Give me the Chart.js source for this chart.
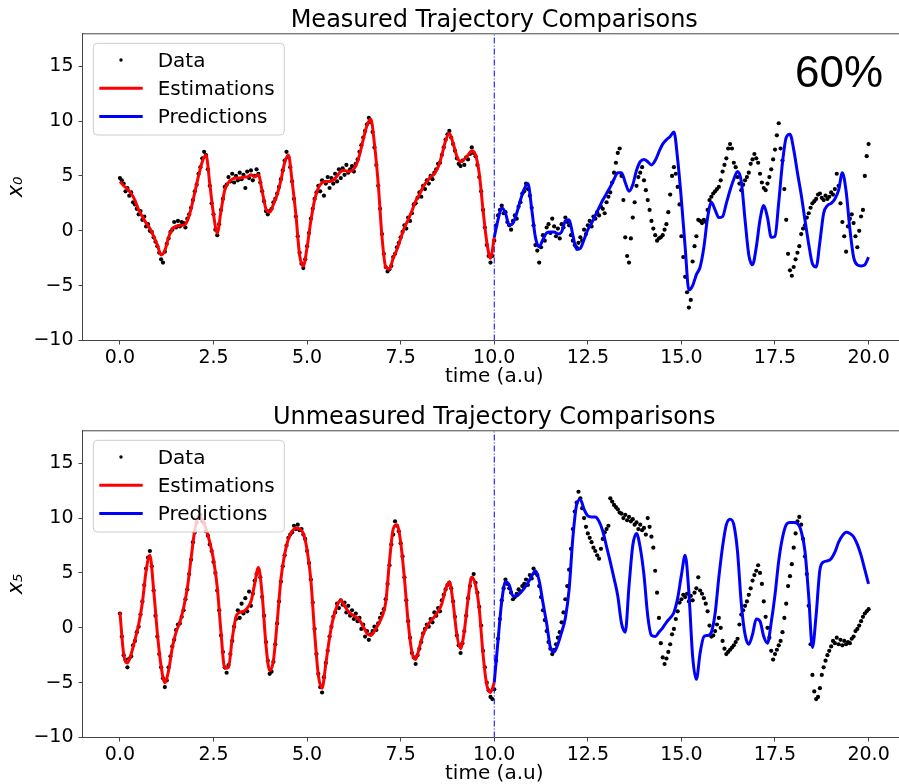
<!DOCTYPE html>
<html>
<head>
<meta charset="utf-8">
<script src="https://cdn.jsdelivr.net/npm/chart.js@4.4.1/dist/chart.umd.min.js"></script>
<style>
  html, body { margin: 0; padding: 0; background: #fff; overflow: hidden; width: 899px; height: 784px; }
  canvas { position: absolute; left: 0; }
  #c1 { top: 0; }
  #c2 { top: 397px; }
</style>
</head>
<body>
<canvas id="c1" width="910" height="392"></canvas>
<canvas id="c2" width="910" height="392"></canvas>
<script>
// ---------- tick labels ----------
const xTicks = [0, 2.5, 5, 7.5, 10, 12.5, 15, 17.5, 20];
const yTicks = [-10, -5, 0, 5, 10, 15];
const splitTime = 10;

// ---------- time grids ----------
const tEst = Array.from({length: 101}, (_, i) => +(i * 0.1).toFixed(1));        // 0..10
const tPred = Array.from({length: 101}, (_, i) => +(10 + i * 0.1).toFixed(1));  // 10..20
const tData = Array.from({length: 401}, (_, i) => +(i * 0.05).toFixed(2));      // 0..20

// ---------- measured state x0 ----------
const x0Est = [
  4.5,4.1,3.8,3.4,2.8,1.9,1.3,0.7,0.2,-0.5,
  -1.3,-2.2,-1.8,-0.6,0.2,0.4,0.5,0.5,0.9,2.0,
  3.5,5.0,6.3,6.9,4.3,1.5,-0.2,1.8,3.7,4.4,
  4.7,4.8,4.8,4.9,4.9,5.1,4.9,5.1,3.6,2.0,
  1.7,2.4,3.3,4.6,6.2,6.9,4.5,1.5,-2.2,-3.2,
  -1.5,0.9,2.8,3.9,4.4,4.5,4.5,4.6,5.0,5.4,
  5.5,5.4,5.5,5.9,6.9,8.3,9.6,10.2,7.9,4.3,
  -0.5,-3.3,-3.5,-2.5,-1.7,-0.7,0.3,1.0,1.8,2.7,
  3.3,4.0,4.5,4.9,5.2,5.8,6.9,8.2,8.9,8.0,
  6.8,6.3,6.5,6.9,7.3,6.9,5.2,1.9,-1.0,-2.5,
  -0.6
];
const x0Pred = [
  -0.6,1.0,2.1,1.6,0.5,0.7,1.6,2.8,3.8,4.3,
  2.0,-0.6,-1.45,-0.8,-0.2,-0.1,-0.1,-0.3,-0.1,0.9,
  1.0,-0.4,-1.7,-1.6,-0.8,0.1,0.7,1.4,2.1,2.8,
  3.4,4.0,4.7,5.3,5.3,4.4,3.6,4.2,5.5,6.3,
  6.5,6.3,6.0,6.4,7.2,7.9,8.3,8.6,9.0,6.5,
  2.8,-1.5,-5.4,-5.0,-4.0,-3.3,-1.5,1.2,2.6,1.9,
  1.2,1.3,2.5,3.7,4.7,5.4,4.5,1.0,-2.2,-3.1,
  -1.5,1.0,2.3,1.2,-0.6,-0.5,2.6,6.2,8.5,8.8,
  7.4,5.3,3.3,1.0,-1.2,-3.0,-3.3,-1.0,1.6,2.3,
  2.5,2.9,3.7,5.3,3.6,0.2,-2.4,-3.1,-3.2,-3.1,
  -2.4
];
const x0Data = [
  4.8,4.6,4.3,3.6,3.9,3.2,3.5,2.6,2.4,2.0,1.5,1.8,1.0,1.3,0.4,0.6,0.0,-0.1,-0.6,-1.0,
  -1.4,-2.0,-2.6,-2.9,-1.9,-1.2,-0.7,-0.1,0.1,0.8,0.3,0.9,0.4,0.8,0.7,0.3,1.1,1.5,2.1,2.8,
  3.6,4.2,5.2,5.8,6.6,7.2,6.9,5.6,4.1,2.5,1.5,0.1,-0.4,0.6,1.9,2.9,4.0,4.2,4.9,4.5,
  5.2,4.4,5.0,4.6,5.3,4.7,5.1,3.9,5.4,4.8,5.5,4.6,5.0,5.6,5.2,4.4,3.6,2.7,1.8,1.5,
  1.8,2.0,2.6,2.9,3.4,4.0,4.7,5.5,6.4,7.2,6.7,5.8,4.5,2.9,1.3,-0.5,-2.0,-3.0,-3.4,-2.6,
  -1.4,-0.2,1.1,2.0,2.9,3.5,4.1,3.6,4.6,3.2,4.3,4.9,3.9,4.8,4.3,5.2,4.5,5.6,4.8,5.7,
  5.1,6.0,5.3,5.6,5.9,5.4,6.1,6.5,7.2,7.8,8.5,9.1,9.7,10.3,9.9,9.0,7.6,6.0,4.1,2.0,
  -0.3,-2.1,-3.3,-3.7,-3.5,-3.2,-2.4,-2.1,-1.5,-1.1,-0.6,-0.1,0.5,0.2,1.2,0.9,1.6,2.4,2.5,3.0,
  3.5,3.1,4.1,3.8,4.6,4.3,5.0,4.7,5.3,5.6,6.1,6.2,6.9,7.6,8.3,8.8,9.1,8.5,7.9,7.3,
  6.6,6.1,5.9,6.4,6.0,6.7,6.5,7.0,7.6,7.1,6.8,6.0,4.9,3.6,1.9,0.3,-1.3,-2.3,-2.9,-2.3,
  -0.9,0.5,1.4,1.9,2.3,1.6,1.7,0.8,0.5,0.1,0.9,1.4,1.1,2.2,2.6,3.4,3.6,4.3,3.8,3.2,
  2.1,0.5,-1.3,-1.8,-2.9,-1.5,-0.4,-0.9,0.3,0.6,-0.2,1.1,0.4,-0.5,0.2,-0.7,0.6,0.3,1.2,0.8,
  0.5,-0.4,-0.9,-1.3,-1.5,-1.1,-0.6,-0.9,0.1,-0.3,0.5,0.9,0.4,1.3,1.1,1.7,1.4,2.2,2.0,1.6,
  2.6,3.1,3.5,4.4,5.3,6.2,7.1,7.5,5.0,2.8,-0.6,-2.3,-2.9,-0.7,1.2,2.6,4.1,4.9,5.3,5.8,
  4.6,3.7,2.8,1.9,0.9,0.2,-0.4,-0.9,-0.7,-0.6,-0.4,0.1,0.6,1.7,3.3,5.0,5.8,5.2,4.0,2.4,
  -0.5,-2.4,-4.2,-5.6,-7.0,-6.3,-2.8,-1.4,-0.5,1.0,0.9,0.7,1.0,0.8,1.9,2.8,3.1,3.4,3.6,3.8,
  4.0,4.6,5.4,6.0,6.6,7.5,7.9,7.5,6.2,5.8,4.9,4.3,3.7,4.2,4.6,4.9,5.3,6.1,6.5,7.0,
  6.6,6.2,5.2,4.4,3.9,3.7,4.3,4.9,5.6,6.5,7.4,8.7,9.8,7.5,6.4,3.8,1.0,-2.1,-3.6,-4.1,
  -3.3,-2.6,-2.0,-1.4,-0.3,0.2,0.5,1.2,1.6,2.1,2.5,2.7,2.9,3.3,3.4,3.0,2.8,3.2,2.9,3.1,
  3.5,3.3,3.8,5.2,4.1,2.5,0.8,-0.5,-1.9,0.4,1.1,1.5,0.7,-0.5,-1.5,0.0,1.3,1.9,5.0,6.8,
  7.9
];

// ---------- unmeasured state x5 ----------
const x5Est = [
  1.4,-2.4,-3.2,-2.4,-1.1,0.3,2.3,5.2,6.6,3.5,
  -0.5,-3.5,-5.0,-3.9,-1.8,-0.4,0.5,1.8,3.6,6.3,
  8.9,10.0,9.9,9.0,7.8,6.2,3.7,-0.4,-3.7,-3.6,
  -1.0,1.0,1.4,1.5,1.8,2.4,4.0,5.5,3.0,-1.5,
  -3.9,-3.0,0.5,4.4,6.7,8.1,8.8,9.1,9.0,8.6,
  7.1,4.4,-0.4,-4.3,-5.5,-3.3,-0.9,0.9,2.0,2.5,
  2.0,1.5,1.2,1.0,0.7,0.1,-0.5,-0.7,-0.3,0.3,
  1.0,2.3,6.0,9.0,9.4,7.8,4.5,0.5,-2.2,-2.9,
  -1.8,-0.6,0.1,0.6,1.0,1.5,2.2,3.5,4.2,2.3,
  -0.6,-1.9,-0.3,2.6,4.6,3.9,1.7,-2.4,-5.2,-5.9,
  -5.0
];
const x5Pred = [
  -5.0,-1.2,2.4,4.2,3.9,2.9,2.9,3.2,3.6,4.1,
  4.7,5.2,4.3,2.3,0.4,-1.8,-2.2,-1.5,-0.4,0.9,
  3.5,8.2,11.2,11.7,10.8,10.2,10.1,10.1,9.7,8.8,
  7.4,6.0,4.5,2.9,0.4,-0.4,3.8,7.5,8.6,7.3,
  4.8,1.1,-0.7,-0.8,-0.4,0.0,0.5,0.9,1.4,2.7,
  4.8,6.6,3.2,-2.6,-4.7,-2.3,-0.8,-0.7,-0.4,1.3,
  4.6,7.4,9.4,9.9,9.4,6.9,2.2,-0.6,-1.5,-0.6,
  0.8,0.6,-0.8,-1.4,0.5,3.0,6.1,8.2,9.4,9.6,
  9.6,9.5,8.8,7.0,2.9,-1.8,1.2,5.3,6.0,6.1,
  6.3,6.9,7.8,8.4,8.7,8.6,8.3,7.6,6.6,5.3,
  4.0
];
const x5Data = [
  1.3,-0.8,-2.5,-2.9,-3.6,-2.8,-2.6,-1.6,-1.2,-0.4,0.1,1.2,2.4,3.9,5.4,6.4,7.0,5.6,3.4,1.1,
  -0.8,-2.4,-3.6,-4.6,-5.4,-4.8,-3.6,-2.6,-1.7,-1.1,-0.2,0.3,0.4,1.0,1.6,2.6,3.5,4.9,6.2,7.8,
  8.7,9.6,10.1,10.3,9.7,9.5,8.8,8.4,7.6,7.0,6.0,5.0,3.4,1.6,-0.7,-2.2,-3.6,-4.1,-3.4,-2.4,
  -1.2,0.1,0.8,1.6,0.9,2.2,1.3,2.7,1.5,3.3,2.0,3.1,4.3,4.9,5.3,4.6,2.8,1.1,-1.3,-3.0,
  -4.2,-4.0,-3.1,-1.5,0.4,2.4,4.2,5.6,6.6,7.5,8.2,8.5,8.7,9.3,9.0,9.4,8.9,9.0,8.5,8.1,
  7.0,5.9,4.4,2.3,-0.1,-2.4,-4.2,-5.4,-5.9,-4.5,-3.2,-2.1,-0.8,0.1,1.0,1.4,2.2,1.8,2.5,2.1,
  2.3,1.4,2.0,1.1,1.6,0.8,1.3,0.6,0.9,-0.1,0.3,-0.8,-0.3,-1.1,-0.6,-0.3,0.1,-0.2,0.4,0.9,
  1.3,1.7,2.6,4.0,5.7,7.6,8.5,9.7,9.3,8.8,7.7,6.5,4.6,2.5,0.6,-0.9,-2.3,-2.7,-3.3,-2.5,
  -1.9,-1.3,-0.5,-0.1,0.3,0.1,0.8,0.5,1.4,1.1,1.8,1.5,2.5,3.0,3.5,3.9,4.1,3.6,2.4,1.0,
  -0.7,-1.6,-2.3,-1.4,-0.3,1.1,2.7,3.8,4.5,4.9,4.1,3.2,1.9,0.2,-2.1,-3.6,-5.0,-5.7,-6.3,-6.5,
  -5.6,-3.0,-1.0,0.8,2.5,3.6,4.4,4.0,3.6,3.2,2.6,2.8,3.1,3.5,3.3,3.8,4.0,4.4,3.9,4.8,
  4.5,5.4,5.0,4.8,3.8,2.8,1.6,0.7,-0.3,-1.3,-1.9,-2.4,-2.0,-1.5,-0.9,-0.4,0.5,1.4,2.6,3.8,
  5.3,7.2,9.0,10.6,11.4,12.4,11.8,10.9,10.0,9.2,8.6,8.2,7.8,7.3,7.0,6.6,6.3,7.2,8.1,8.7,
  9.0,9.3,11.8,11.5,11.2,11.0,10.8,10.5,10.4,10.0,10.3,9.8,10.1,9.7,9.9,9.4,9.6,9.0,9.4,8.9,
  9.1,8.5,10.0,9.2,8.3,7.3,5.2,3.2,0.9,-1.4,-2.7,-3.3,-2.8,-2.2,-1.5,-0.6,-0.1,0.8,1.5,2.3,
  2.6,3.0,2.8,3.1,2.4,2.9,2.5,3.2,3.6,4.6,3.4,3.1,2.7,2.2,1.5,0.2,-0.8,-0.7,-0.3,0.3,
  0.9,0.0,-1.2,-1.9,-2.4,-2.2,-2.0,-1.8,-1.6,-1.3,-1.0,0.3,1.2,1.6,2.0,2.4,3.0,3.6,4.3,4.8,
  5.2,5.7,5.0,4.0,2.4,1.0,0.0,-0.9,-2.1,-2.9,-2.4,-2.0,-1.6,-1.2,-0.4,0.9,2.2,3.8,4.7,5.8,
  7.3,8.6,9.7,10.1,9.4,8.1,6.5,4.9,2.0,-1.5,-4.3,-5.8,-6.5,-6.3,-5.5,-4.3,-3.6,-3.0,-2.5,-2.1,
  -1.7,-1.2,-1.4,-0.9,-1.5,-1.1,-1.6,-1.2,-1.5,-1.3,-1.4,-1.0,-0.8,-0.3,-0.1,0.2,0.6,1.0,1.3,1.5,
  1.7
];

// ---------- helpers ----------
const FONT = '"DejaVu Sans", sans-serif';
const pts = (xs, ys) => xs.map((x, i) => ({x: x, y: ys[i]}));
const fmtY = v => (v < 0 ? '\u2212' + Math.abs(v) : String(v));

const decor = {
  id: 'decor',
  afterDraw(chart, args, o) {
    const ctx = chart.ctx, a = chart.chartArea;
    ctx.save();
    // top / right spines
    ctx.strokeStyle = '#444';
    ctx.lineWidth = 1;
    ctx.beginPath();
    ctx.moveTo(a.left, a.top + 0.5);
    ctx.lineTo(a.right, a.top + 0.5);
    ctx.lineTo(a.right, a.bottom);
    ctx.stroke();
    // title
    ctx.fillStyle = '#000';
    ctx.font = '24px ' + FONT;
    ctx.textAlign = 'center';
    ctx.textBaseline = 'alphabetic';
    ctx.fillText(o.title, (a.left + a.right) / 2, a.top - 6.3);
    // legend
    const lx = a.left + 10.8, ly = a.top + 10, lw = 191, lh = 91.7, r = 4;
    ctx.beginPath();
    ctx.moveTo(lx + r, ly);
    ctx.arcTo(lx + lw, ly, lx + lw, ly + lh, r);
    ctx.arcTo(lx + lw, ly + lh, lx, ly + lh, r);
    ctx.arcTo(lx, ly + lh, lx, ly, r);
    ctx.arcTo(lx, ly, lx + lw, ly, r);
    ctx.closePath();
    ctx.fillStyle = 'rgba(255,255,255,0.8)';
    ctx.fill();
    ctx.strokeStyle = '#cccccc';
    ctx.stroke();
    const ds = chart.data.datasets;
    const find = k => ds.find(d => d.legendKey === k);
    const entries = [find('data'), find('est'), find('pred')];
    ctx.font = '20px ' + FONT;
    ctx.textAlign = 'left';
    entries.forEach((d, i) => {
      const my = a.top + 26.7 + i * 28.3;
      const ty = a.top + 33.4 + i * 28.3;
      if (d.legendKey === 'data') {
        ctx.fillStyle = '#000';
        ctx.beginPath();
        ctx.arc(a.left + 38.5, my, 1.7, 0, Math.PI * 2);
        ctx.fill();
      } else {
        ctx.strokeStyle = d.borderColor;
        ctx.lineWidth = 3;
        ctx.beginPath();
        ctx.moveTo(a.left + 16.8, my);
        ctx.lineTo(a.left + 60.2, my);
        ctx.stroke();
      }
      ctx.fillStyle = '#000';
      ctx.fillText(d.label, a.left + 75.2, ty);
    });
    if (o.pct) {
      ctx.font = '44px "Liberation Sans", Arial, sans-serif';
      ctx.textAlign = 'left';
      ctx.fillStyle = '#000';
      ctx.fillText(o.pct, 795, a.top + 53.4);
    }
    ctx.restore();
  }
};

function makeChart(id, est, pred, data, title, ylabel, pct) {
  return new Chart(document.getElementById(id), {
    type: 'scatter',
    data: {
      datasets: [
        { label: 'Predictions', legendKey: 'pred', data: pts(tPred, pred), showLine: true,
          borderColor: '#0000ff', borderWidth: 3, pointRadius: 0, cubicInterpolationMode: 'monotone', order: 0 },
        { label: 'Estimations', legendKey: 'est', data: pts(tEst, est), showLine: true,
          borderColor: '#ff0000', borderWidth: 3, pointRadius: 0, cubicInterpolationMode: 'monotone', order: 1 },
        { label: 'split', legendKey: 'split', data: [{x: splitTime, y: -10}, {x: splitTime, y: 18}], showLine: true,
          borderColor: '#0000ff', borderWidth: 1, borderDash: [6, 2, 1, 2], pointRadius: 0, order: 2 },
        { label: 'Data', legendKey: 'data', data: pts(tData, data), showLine: false,
          pointRadius: 2.1, pointBackgroundColor: '#000', pointBorderWidth: 0, order: 3 }
      ]
    },
    options: {
      responsive: false,
      animation: false,
      devicePixelRatio: 1,
      events: [],
      layout: { padding: { top: 33.3, right: 2.5, left: 0, bottom: 0 } },
      plugins: { legend: { display: false }, tooltip: { enabled: false }, decor: { title: title, pct: pct } },
      scales: {
        x: {
          type: 'linear', min: -1, max: 21,
          afterBuildTicks: s => { s.ticks = xTicks.map(v => ({value: v})); },
          afterFit: s => { s.height = 51.5; },
          grid: { drawOnChartArea: false, drawTicks: true, tickLength: 4, tickColor: '#444' },
          border: { display: true, color: '#444', width: 1 },
          ticks: { font: { size: 19, family: FONT }, color: '#000', padding: 2, maxRotation: 0, autoSkip: false,
                   callback: v => Number(v).toFixed(1) },
          title: { display: true, text: 'time (a.u)', font: { size: 20, family: FONT }, color: '#000',
                   padding: { top: 0, bottom: 3 } }
        },
        y: {
          type: 'linear', min: -10, max: 18,
          afterBuildTicks: s => { s.ticks = yTicks.map(v => ({value: v})); },
          afterFit: s => { s.width = 82.5; },
          grid: { drawOnChartArea: false, drawTicks: true, tickLength: 4, tickColor: '#444' },
          border: { display: true, color: '#444', width: 1 },
          ticks: { font: { size: 19, family: FONT }, color: '#000', padding: 5, autoSkip: false,
                   callback: v => fmtY(v) },
          title: { display: true, text: ylabel, font: { size: 21, family: FONT, style: 'italic' }, color: '#000',
                   padding: { top: 4, bottom: 0 } }
        }
      }
    },
    plugins: [decor]
  });
}

makeChart('c1', x0Est, x0Pred, x0Data, 'Measured Trajectory Comparisons', 'x\u2080', '60%');
makeChart('c2', x5Est, x5Pred, x5Data, 'Unmeasured Trajectory Comparisons', 'x\u2085', null);
</script>
</body>
</html>
